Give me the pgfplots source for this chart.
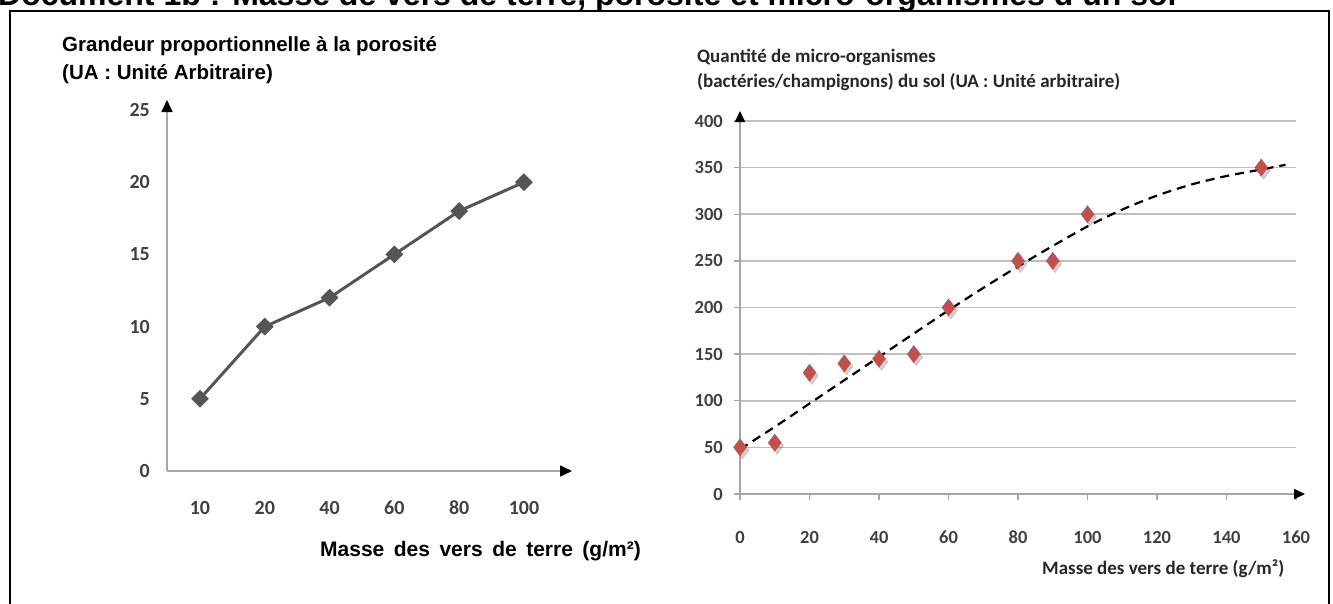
\documentclass[border=0pt]{standalone}
\usepackage{fontspec}
\setmainfont{Liberation Sans}
\newfontfamily\carlito{Carlito}
\usepackage{pgfplots}
\pgfplotsset{compat=1.18}
\usetikzlibrary{arrows.meta}

\definecolor{excelred}{HTML}{C0504D}
\definecolor{linegray}{HTML}{555555}
\definecolor{axisgray}{HTML}{A6A6A6}
\definecolor{gridgray}{HTML}{BFBFBF}
\definecolor{labelgray}{HTML}{404040}

\begin{document}
\begin{tikzpicture}
\path[use as bounding box] (0pt,0pt) rectangle (1333pt,-604pt);

% title (cut at the top, as in the source) and frame
\node[anchor=base west, inner sep=0pt, font=\bfseries\fontsize{32}{36}\selectfont] at (-2pt,-6pt)
  {Document 1b : Masse de vers de terre, porosité et micro-organismes d'un sol};
\draw[line width=2.5pt] (10pt,-11pt) rectangle (1329pt,-660pt);

% ---- left: porosity
\begin{axis}[
  at={(167pt,-471pt)}, anchor=south west,
  scale only axis, width=405pt, height=371pt,
  xmin=-0.509, xmax=5.741, ymin=0, ymax=25.69,
  axis lines=left,
  axis line style={draw=axisgray, line width=1.6pt, -{Triangle[color=black, length=12pt, width=11pt]}},
  xtick={0,1,2,3,4,5}, xticklabels={10,20,40,60,80,100},
  ytick={0,5,10,15,20,25},
  major tick length=0pt,
  /pgf/number format/assume math mode=true,
  tick label style={font=\carlito\bfseries\fontsize{20}{20}\selectfont, text=labelgray, inner sep=0pt},
  xticklabel style={anchor=center, yshift=-37pt},
  yticklabel style={anchor=east, xshift=-17pt},
  clip=false,
]
\addplot[linegray, line width=3pt, mark=square*, mark size=4.8pt, mark options={rotate=45, fill=linegray, solid}]
  coordinates {(0,5) (1,10) (2,12) (3,15) (4,18) (5,20)};
\end{axis}

\node[anchor=base west, inner sep=0pt, font=\bfseries\fontsize{20.5}{24}\selectfont] at (62pt,-52pt) {Grandeur proportionnelle à la porosité};
\node[anchor=base west, inner sep=0pt, font=\bfseries\fontsize{20.5}{24}\selectfont] at (62pt,-80pt) {(UA : Unité Arbitraire)};
\node[anchor=base west, inner sep=0pt, font=\bfseries\fontsize{21}{24}\selectfont] at (320pt,-556pt) {\spaceskip=9.5pt Masse des vers de terre (g/m²)};

% ---- right: micro-organisms
\begin{axis}[
  at={(740pt,-494pt)}, anchor=south west,
  scale only axis, width=556pt, height=373pt,
  xmin=0, xmax=160, ymin=0, ymax=400,
  axis lines=left,
  x axis line style={draw=axisgray, line width=1.6pt, shorten >=-9pt, shorten <=-5pt, -{Triangle[color=black, length=11pt, width=10pt]}},
  y axis line style={draw=axisgray, line width=1.6pt, shorten >=-10pt, shorten <=-6pt, -{Triangle[color=black, length=11pt, width=10pt]}},
  xtick={0,20,...,160}, ytick={0,50,...,400},
  ymajorgrids, grid style={draw=gridgray, line width=1.6pt},
  tick align=outside, major tick length=6pt,
  tick style={draw=axisgray, line width=1.4pt},
  /pgf/number format/assume math mode=true,
  tick label style={font=\carlito\bfseries\fontsize{18.5}{18.5}\selectfont, text=labelgray, inner sep=0pt},
  xticklabel style={anchor=center, yshift=-37pt},
  yticklabel style={anchor=east, xshift=-11pt},
  clip=false,
]
% soft shadow under the markers
\addplot[only marks, mark=diamond*, mark size=8.6pt, color=black, opacity=0.18, mark options={xshift=2.5pt, yshift=-3pt}]
  coordinates {(0,50) (10,55) (20,130) (30,140) (40,145) (50,150) (60,200) (80,250) (90,250) (100,300) (150,350)};
\addplot[only marks, mark=diamond*, mark size=8.6pt, color=excelred]
  coordinates {(0,50) (10,55) (20,130) (30,140) (40,145) (50,150) (60,200) (80,250) (90,250) (100,300) (150,350)};
\addplot[black, line width=2.2pt, dash pattern=on 9pt off 6pt, smooth]
  coordinates {(0,48) (10,72) (20,97) (30,122) (40,147) (50,172) (60,197) (70,221) (80,244) (90,266) (100,287) (110,305) (120,320) (130,332) (140,341) (150,348) (157,353)};
\end{axis}

\node[anchor=base west, inner sep=0pt, font=\carlito\bfseries\fontsize{19}{22}\selectfont, text=black!85] at (697pt,-63pt) {Quantité de micro-organismes};
\node[anchor=base west, inner sep=0pt, font=\carlito\bfseries\fontsize{19}{22}\selectfont, text=black!85] at (697pt,-88pt) {(bactéries/champignons) du sol (UA : Unité arbitraire)};
\node[anchor=base west, inner sep=0pt, font=\carlito\bfseries\fontsize{19}{22}\selectfont, text=black!85] at (1042pt,-574pt) {Masse des vers de terre (g/m²)};
\end{tikzpicture}
\end{document}
